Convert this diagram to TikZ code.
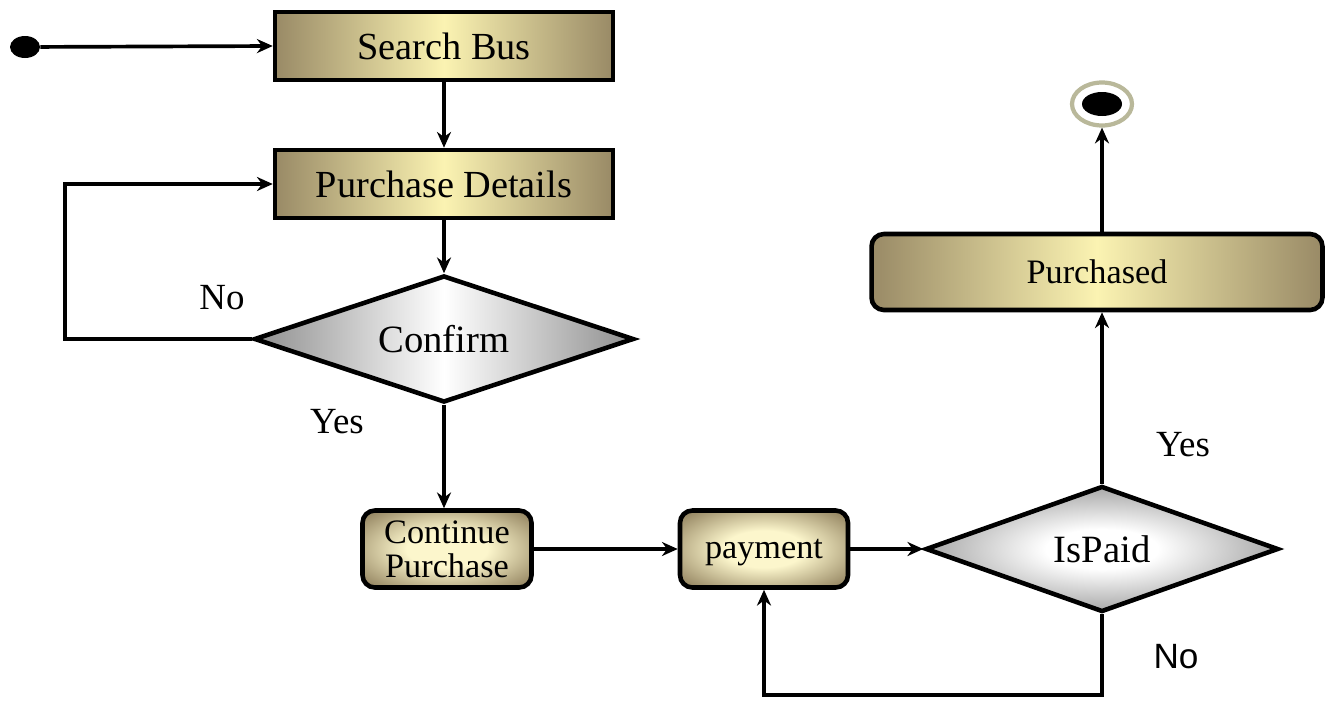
\documentclass[tikz,border=0pt]{standalone}
\usepackage{fontspec}
\setmainfont{Liberation Serif}
\newfontfamily\labelsans{Liberation Sans}
\usetikzlibrary{shapes.geometric,arrows.meta}
\definecolor{khakidark}{HTML}{998A66}
\definecolor{khakilight}{HTML}{FBF3B2}
\definecolor{glowlight}{HTML}{FCF6CC}
\definecolor{ringcol}{HTML}{B9B89A}
\definecolor{tipgray}{HTML}{8E8E8E}
\pgfdeclareradialshading{boxglow}{\pgfpointorigin}{%
  color(0bp)=(glowlight); color(12bp)=(glowlight); color(32bp)=(khakidark); color(50bp)=(khakidark)}
\pgfdeclareradialshading{diamondglow}{\pgfpointorigin}{%
  color(0bp)=(white); color(8bp)=(white); color(30bp)=(tipgray); color(50bp)=(tipgray)}
\tikzset{
  flow/.style={line width=2.1pt,-{Stealth[length=9pt,width=8pt]}},
  statebox/.style={draw=black,line width=2.6pt,rectangle,inner sep=0pt,
    left color=khakidark,right color=khakidark,middle color=khakilight,
    font=\fontsize{21.8}{24}\selectfont},
  actbox/.style={draw=black,line width=2.6pt,rectangle,rounded corners=7pt,inner sep=0pt,
    shading=boxglow,font=\fontsize{19.5}{20.5}\selectfont,align=center},
  decision/.style={draw=black,line width=2.6pt,diamond,shape aspect=3,inner sep=0pt,
    font=\fontsize{22}{24}\selectfont},
  guard/.style={font=\fontsize{21}{24}\selectfont}
}
\begin{document}
\begin{tikzpicture}[x=0.02cm,y=-0.02cm]
\useasboundingbox (0,0) rectangle (1332,700);

% initial and final states
\node[ellipse,fill=black,minimum width=0.6cm,minimum height=0.44cm,inner sep=0pt] (start) at (25,47) {};
\node[ellipse,draw=ringcol,line width=2.4pt,fill=white,minimum width=1.2cm,minimum height=0.86cm,inner sep=0pt] (endring) at (1102,104) {};
\node[ellipse,fill=black,minimum width=0.8cm,minimum height=0.48cm,inner sep=0pt] (enddot) at (1102,104) {};

% states
\node[statebox,minimum width=6.76cm,minimum height=1.36cm] (search) at (444,46) {Search Bus};
\node[statebox,minimum width=6.76cm,minimum height=1.36cm] (details) at (444,184) {Purchase Details};
\node[decision,left color=tipgray,right color=tipgray,middle color=white,
      minimum width=7.6cm,minimum height=2.54cm] (confirm) at (444,339) {Confirm};
\node[actbox,minimum width=3.38cm,minimum height=1.54cm] (cont) at (447,549) {Continue\\[-1pt]Purchase};
\node[actbox,text depth=0pt,minimum width=3.36cm,minimum height=1.54cm] (payment) at (764,549) {payment};
\node[decision,shading=diamondglow,minimum width=7.06cm,minimum height=2.52cm] (ispaid) at (1102,549) {IsPaid};
\node[actbox,left color=khakidark,right color=khakidark,middle color=khakilight,
      minimum width=9.02cm,minimum height=1.52cm] (purchased) at (1097,272) {Purchased};

% guard labels
\node[guard] (noconfirm) at (222,298) {No};
\node[guard] (yesconfirm) at (337,422) {Yes};
\node[guard] (yespaid) at (1183,445) {Yes};
\node[font=\labelsans\fontsize{20}{24}\selectfont] (nopaid) at (1176,657) {No};

% loop corners
\coordinate (loopA) at (65,339);
\coordinate (loopB) at (1102,695);

% transitions
\draw[flow] (start) -- (search.west);
\draw[flow] (search) -- (details);
\draw[flow] (details) -- (confirm.north);
\draw[flow] (confirm.west) -- (loopA) |- (details.west);
\draw[flow] (confirm.south) -- (confirm.south |- cont.north);
\draw[flow] (cont) -- (payment);
\draw[flow] (payment) -- (ispaid.west);
\draw[flow] (ispaid.north) -- (ispaid.north |- purchased.south);
\draw[flow] (purchased.north -| endring) -- (endring.south);
\draw[flow] (ispaid.south) -- (loopB) -| (payment.south);
\end{tikzpicture}
\end{document}
